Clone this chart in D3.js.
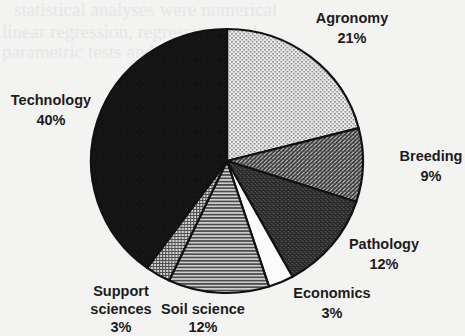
<!DOCTYPE html>
<html>
<head>
<meta charset="utf-8">
<script src="https://cdn.jsdelivr.net/npm/d3@7/dist/d3.min.js"></script>
<style>
  html, body { margin: 0; padding: 0; background: #f3f3f2; }
  svg { display: block; }
</style>
</head>
<body>
<svg id="chart" width="465" height="336"></svg>
<script>
// Share of studies by discipline (percent)
const categories = ["Agronomy", "Breeding", "Pathology", "Economics", "Soil science", "Support sciences", "Technology"];
const values = [21, 9, 12, 3, 12, 3, 40];
// Label text lines for each slice (name lines, then the percentage)
const labelLines = [
  ["Agronomy"], ["Breeding"], ["Pathology"], ["Economics"],
  ["Soil science"], ["Support", "sciences"], ["Technology"]
];

// Layout
const W = 465, H = 336;
const cx = 227, cy = 161, R = 132, xStretch = 1.03;
// Label block anchors: centre x, first baseline, line spacing
const labelAnchor = {
  "Agronomy": [352, 23, 19.5],
  "Breeding": [431, 161, 19.5],
  "Pathology": [384, 249, 19.5],
  "Economics": [332, 298, 19.5],
  "Soil science": [203, 314, 18],
  "Support sciences": [121, 296, 18],
  "Technology": [51, 105, 19.5]
};

const svg = d3.select("#chart");
const defs = svg.append("defs");

// Faint print from the facing page, showing through above the figure
const ghost = svg.append("g")
  .attr("font-family", "Liberation Serif, serif")
  .attr("font-size", 19)
  .attr("fill", "#e7e7e6");
[
  [14, 16, "statistical analyses were numerical"],
  [2, 38, "linear regression, regression, appl"],
  [2, 58, "parametric tests and series te"]
].forEach(([x, y, t]) => ghost.append("text").attr("x", x).attr("y", y).text(t));

// Fill patterns for the slices
function pattern(id, size, build) {
  const p = defs.append("pattern")
    .attr("id", id)
    .attr("patternUnits", "userSpaceOnUse")
    .attr("width", size).attr("height", size);
  build(p);
}
pattern("pAgro", 4, p => {
  p.append("rect").attr("width", 4).attr("height", 4).attr("fill", "#ececec");
  p.append("rect").attr("x", 0).attr("y", 0).attr("width", 1.6).attr("height", 1.6).attr("fill", "#8a8a8a");
  p.append("rect").attr("x", 2).attr("y", 2).attr("width", 1.6).attr("height", 1.6).attr("fill", "#8a8a8a");
});
pattern("pBreed", 4, p => {
  p.append("rect").attr("width", 4).attr("height", 4).attr("fill", "#bdbdbd");
  p.append("path").attr("d", "M0,4 L4,0 M-1,1 L1,-1 M3,5 L5,3")
    .attr("stroke", "#353535").attr("stroke-width", 1.6);
  p.append("rect").attr("x", 0).attr("y", 2).attr("width", 4).attr("height", 0.6).attr("fill", "#555");
});
pattern("pPath", 4, p => {
  p.append("rect").attr("width", 4).attr("height", 4).attr("fill", "#2b2b2b");
  p.append("rect").attr("x", 1).attr("y", 0).attr("width", 1).attr("height", 1).attr("fill", "#666");
  p.append("rect").attr("x", 3).attr("y", 2).attr("width", 1).attr("height", 1).attr("fill", "#585858");
  p.append("rect").attr("x", 0).attr("y", 3).attr("width", 1).attr("height", 1).attr("fill", "#474747");
});
pattern("pSoil", 3.3, p => {
  p.append("rect").attr("width", 3.3).attr("height", 3.3).attr("fill", "#cdcdcd");
  p.append("rect").attr("y", 0).attr("width", 3.3).attr("height", 1.6).attr("fill", "#484848");
});
pattern("pSupport", 3, p => {
  p.append("rect").attr("width", 3).attr("height", 3).attr("fill", "#d2d2d2");
  p.append("rect").attr("y", 0).attr("width", 3).attr("height", 1).attr("fill", "#505050");
  p.append("rect").attr("x", 0).attr("width", 1).attr("height", 3).attr("fill", "#505050");
});
pattern("pTech", 6, p => {
  p.append("rect").attr("width", 6).attr("height", 6).attr("fill", "#141414");
  p.append("rect").attr("x", 2).attr("y", 3).attr("width", 1).attr("height", 1).attr("fill", "#222");
});

const fills = {
  "Agronomy": "url(#pAgro)",
  "Breeding": "url(#pBreed)",
  "Pathology": "url(#pPath)",
  "Economics": "#fbfbfb",
  "Soil science": "url(#pSoil)",
  "Support sciences": "url(#pSupport)",
  "Technology": "url(#pTech)"
};

const data = categories.map((c, i) => ({ name: c, value: values[i], lines: labelLines[i] }));
const pie = d3.pie().sort(null).value(d => d.value);
const arc = d3.arc().innerRadius(0).outerRadius(R);

const g = svg.append("g")
  .attr("transform", `translate(${cx},${cy}) scale(${xStretch},1)`);

g.selectAll("path.slice")
  .data(pie(data))
  .join("path")
  .attr("class", "slice")
  .attr("d", arc)
  .attr("fill", d => fills[d.data.name])
  .attr("stroke", "#111")
  .attr("stroke-width", 2.2)
  .attr("stroke-linejoin", "round")
  .attr("vector-effect", "non-scaling-stroke");

// Labels: name lines followed by the percentage
const labels = svg.append("g")
  .attr("font-family", "Liberation Sans, Arial, sans-serif")
  .attr("font-weight", "bold")
  .attr("font-size", 14.5)
  .attr("fill", "#1c1c1c")
  .attr("text-anchor", "middle");

data.forEach(d => {
  const [x, y, gap] = labelAnchor[d.name];
  const lines = d.lines.concat([d.value + "%"]);
  const t = labels.append("text").attr("x", x).attr("y", y);
  lines.forEach((ln, i) => {
    t.append("tspan").attr("x", x).attr("y", y + i * gap).text(ln);
  });
});
</script>
</body>
</html>
